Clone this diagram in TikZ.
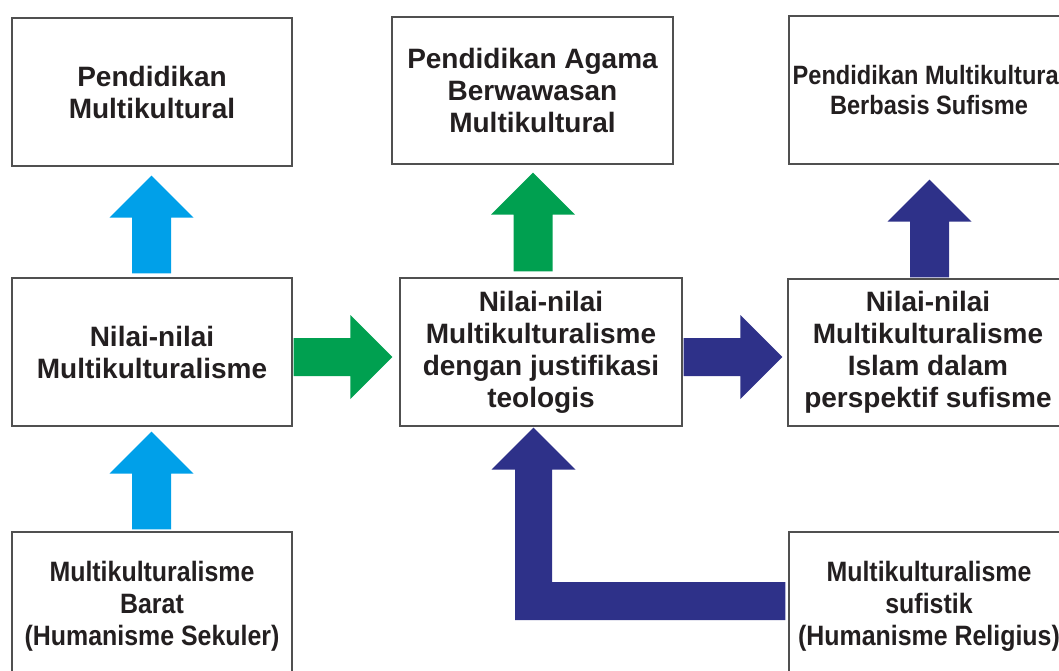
\documentclass[tikz,border=0pt]{standalone}
\usepackage{fontspec}
\setmainfont{Liberation Sans}[BoldFont={* Bold}]
\newfontfamily\narrowfont{Liberation Sans}[BoldFont={* Bold},FakeStretch=0.89]
\usetikzlibrary{calc}
\definecolor{arrcyan}{RGB}{0,160,233}
\definecolor{arrgreen}{RGB}{0,160,80}
\definecolor{arrnavy}{RGB}{46,49,137}
\definecolor{txt}{RGB}{35,31,32}
\definecolor{edge}{RGB}{80,80,80}
\newcommand\fatup[3]{%
  \fill[#1] let \p1=#2, \p2=#3 in
    (\x1-19.5pt,\y1) -- (\x1+19.5pt,\y1) -- (\x1+19.5pt,\y2-42pt) --
    (\x1+42pt,\y2-42pt) -- (\x1,\y2) -- (\x1-42pt,\y2-42pt) --
    (\x1-19.5pt,\y2-42pt) -- cycle;}
\newcommand\fatright[3]{%
  \fill[#1] let \p1=#2, \p2=#3 in
    (\x1,\y1+19pt) -- (\x2-42pt,\y1+19pt) -- (\x2-42pt,\y1+42pt) --
    (\x2,\y1) -- (\x2-42pt,\y1-42pt) -- (\x2-42pt,\y1-19pt) --
    (\x1,\y1-19pt) -- cycle;}
\begin{document}
\begin{tikzpicture}[x=1pt,y=-1pt,
  box/.style={draw=edge,line width=1.2pt,fill=white,inner sep=0pt,
    minimum width=280pt,minimum height=148pt,align=center,text=txt,
    font=\fontsize{28}{32}\selectfont\bfseries},
  narrowbox/.style={box,font=\fontsize{28}{32}\selectfont\narrowfont\bfseries}]
\useasboundingbox (0,0) rectangle (1059,670);
\node[box] (A) at (152,92) {Pendidikan\\Multikultural};
\node[box,minimum width=281pt,minimum height=147pt] (B) at (532.5,90.5) {Pendidikan Agama\\Berwawasan\\Multikultural};
\node[box,font=\fontsize{26.5}{30}\selectfont\narrowfont\bfseries] (C) at (929,90) {Pendidikan Multikultural\\Berbasis Sufisme};
\node[box] (D) at (152,352) {Nilai-nilai\\Multikulturalisme};
\node[box,minimum width=282pt] (E) at (541,352) {Nilai-nilai\\Multikulturalisme\\dengan justifikasi\\teologis};
\node[box,minimum height=147pt] (F) at (928,352.5) {Nilai-nilai\\Multikulturalisme\\Islam dalam\\perspektif sufisme};
\node[narrowbox] (G) at (152,606) {Multikulturalisme\\Barat\\(Humanisme Sekuler)};
\node[narrowbox] (H) at (929,606) {Multikulturalisme\\sufistik\\(Humanisme Religius)};
% up arrows
\fatup{arrcyan}{($(D.north)+(-0.5,-4)$)}{($(A.south)+(-0.5,9)$)}
\fatup{arrcyan}{($(G.north)+(-0.5,-2)$)}{($(D.south)+(-0.5,5)$)}
\fatup{arrgreen}{($(E.north)+(-8,-6)$)}{($(B.south)+(0,8)$)}
\fatup{arrnavy}{($(F.north)+(1.5,-1)$)}{($(C.south)+(0.5,15)$)}
% right arrows
\fatright{arrgreen}{($(D.east)+(1,5)$)}{($(E.west)+(-7,5)$)}
\fatright{arrnavy}{($(E.east)+(1,5)$)}{($(F.west)+(-5,4.5)$)}
% L-shaped arrow from H to E
\fill[arrnavy] let \p1=($(H.west)+(-3,-5)$), \p2=($(E.south)+(-7.5,1)$) in
  (\x1,\y1+19pt) -- (\x2+18.5pt,\y1+19pt) -- (\x2+18.5pt,\y2-42pt) --
  (\x2+42pt,\y2-42pt) -- (\x2,\y2) -- (\x2-42pt,\y2-42pt) --
  (\x2-18.5pt,\y2-42pt) -- (\x2-18.5pt,\y1-19pt) -- (\x1,\y1-19pt) -- cycle;
\end{tikzpicture}
\end{document}
